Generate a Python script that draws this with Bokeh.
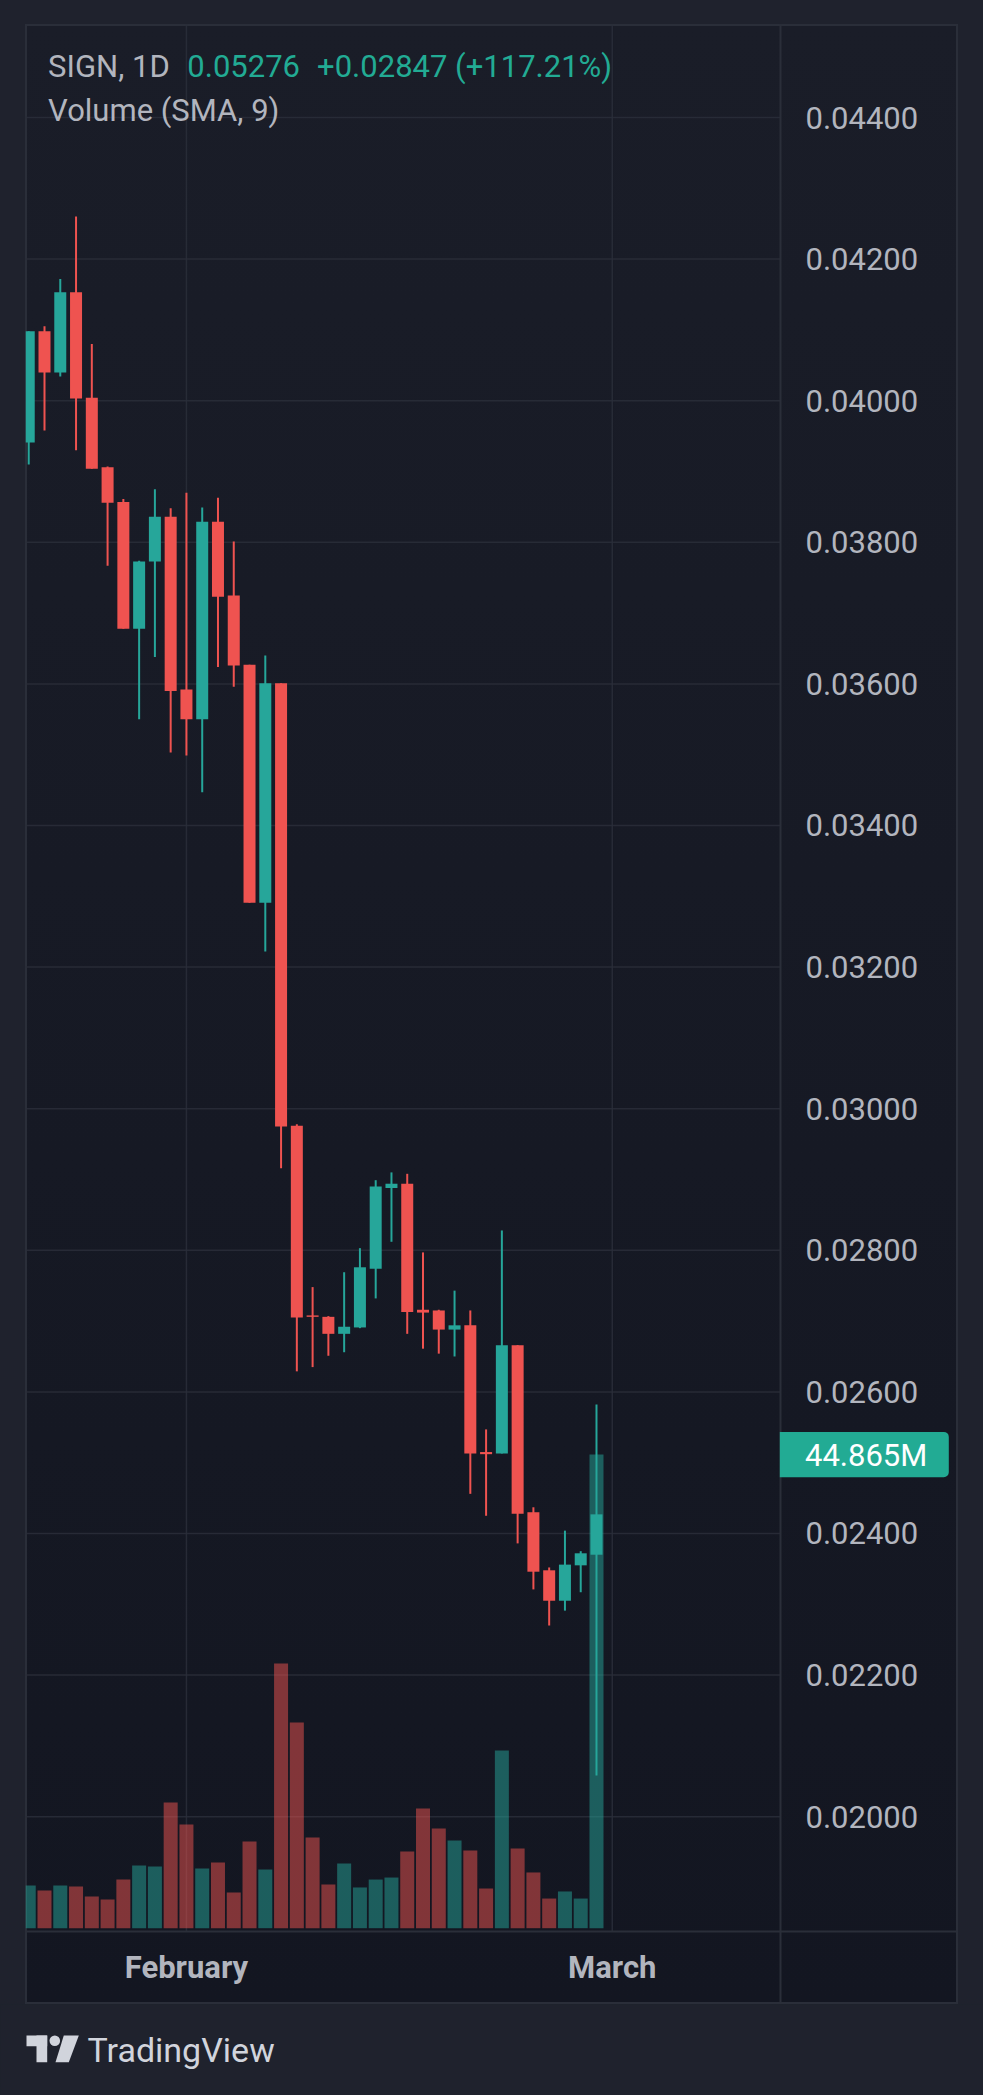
from bokeh.plotting import figure
from bokeh.models import (Range1d, FixedTicker, PrintfTickFormatter, Label,
                          BoxAnnotation, Spacer, ColumnDataSource)
from bokeh.layouts import column, row
from bokeh.core.properties import value
from bokeh.embed import file_html
from bokeh.resources import INLINE

# ---------------- data ----------------
days = list(range(37))  # daily bars, index 10 = 1 February, 37 = 1 March
opens = [0.03941, 0.04098, 0.04040, 0.04153, 0.04004, 0.03906, 0.03857, 0.03678,
         0.03773, 0.03836, 0.03592, 0.03550, 0.03829, 0.03725, 0.03627, 0.03291,
         0.03601, 0.02976, 0.02708, 0.02706, 0.02682, 0.02691, 0.02774, 0.02888,
         0.02894, 0.02716, 0.02715, 0.02688, 0.02694, 0.02515, 0.02513, 0.02666,
         0.02430, 0.02348, 0.02305, 0.02355, 0.02370]
highs = [0.04098, 0.04105, 0.04172, 0.04260, 0.04080, 0.03907, 0.03861, 0.03774,
         0.03875, 0.03848, 0.03870, 0.03849, 0.03863, 0.03801, 0.03627, 0.03640,
         0.03601, 0.02978, 0.02748, 0.02707, 0.02769, 0.02803, 0.02899, 0.02910,
         0.02908, 0.02797, 0.02716, 0.02743, 0.02715, 0.02547, 0.02828, 0.02666,
         0.02437, 0.02352, 0.02404, 0.02375, 0.02582]
lows = [0.03910, 0.03958, 0.04034, 0.03930, 0.03904, 0.03767, 0.03678, 0.03550,
        0.03638, 0.03503, 0.03499, 0.03447, 0.03624, 0.03596, 0.03291, 0.03222,
        0.02916, 0.02629, 0.02635, 0.02651, 0.02656, 0.02690, 0.02732, 0.02812,
        0.02682, 0.02661, 0.02654, 0.02650, 0.02456, 0.02425, 0.02513, 0.02386,
        0.02321, 0.02270, 0.02291, 0.02317, 0.02058]
closes = [0.04098, 0.04040, 0.04153, 0.04003, 0.03904, 0.03856, 0.03678, 0.03773,
          0.03836, 0.03590, 0.03550, 0.03829, 0.03723, 0.03626, 0.03291, 0.03601,
          0.02975, 0.02705, 0.02706, 0.02682, 0.02692, 0.02776, 0.02890, 0.02894,
          0.02713, 0.02712, 0.02688, 0.02694, 0.02513, 0.02512, 0.02666, 0.02428,
          0.02346, 0.02305, 0.02356, 0.02372, 0.02427]
volumes = [4.05e6, 3.57e6, 4.05e6, 3.95e6, 3.00e6, 2.72e6, 4.61e6, 5.94e6,
           5.85e6, 11.91e6, 9.82e6, 5.66e6, 6.22e6, 3.38e6, 8.21e6, 5.56e6,
           25.07e6, 19.49e6, 8.59e6, 4.14e6, 6.13e6, 3.86e6, 4.61e6, 4.80e6,
           7.27e6, 11.34e6, 9.44e6, 8.31e6, 7.36e6, 3.76e6, 16.83e6, 7.55e6,
           5.28e6, 2.81e6, 3.48e6, 2.81e6, 44.865e6]
price_ticks = [0.020, 0.022, 0.024, 0.026, 0.028, 0.030, 0.032, 0.034,
               0.036, 0.038, 0.040, 0.042, 0.044]
month_ticks = [10, 37]
month_labels = ["February", "March"]
header_symbol = "SIGN, 1D"
header_last = "0.05276"
header_change = "+0.02847 (+117.21%)"
volume_title = "Volume (SMA, 9)"
brand = "TradingView"

# ---------------- style / layout ----------------
UP, DOWN = "#26a69a", "#ef5350"
TEXT_UP = "#22ab94"
OUTER = "#1f222d"
LINE = "#2a2e39"
AXIS_TEXT = "#b2b5be"
FONT = "Roboto"

PAGE_W, PAGE_H = 983, 2095
PANE_X, PANE_Y = 25, 24          # pane position on the page
PANE_W, PANE_H = 933, 1980       # pane = plot frame
SEP_PX, SEP_PY = 755, 1907       # price-scale / time-scale separators (pane px)
X_START, X_END = -0.2048, 58.954
Y_TOP, Y_BOTTOM = 0.0453136, 0.017347
VOL_TOP, VOL_BOTTOM = 180.34e6, -7.228e6


def cx(px):
    return X_START + px / PANE_W * (X_END - X_START)


def cy(py):
    return Y_TOP - py / PANE_H * (Y_TOP - Y_BOTTOM)


def vpx(v):
    return (VOL_TOP - v) / (VOL_TOP - VOL_BOTTOM) * PANE_H


SEP_X, SEP_Y = cx(SEP_PX), cy(SEP_PY)

colors = [UP if c >= o else DOWN for o, c in zip(opens, closes)]
src = ColumnDataSource(dict(
    x=days, open=opens, high=highs, low=lows, close=closes,
    top=[max(o, c) for o, c in zip(opens, closes)],
    bottom=[min(o, c) for o, c in zip(opens, closes)],
    vol=volumes, color=colors,
))

p = figure(width=PANE_W, height=PANE_H,
           x_range=Range1d(X_START, X_END), y_range=Range1d(Y_BOTTOM, Y_TOP),
           output_backend="svg", toolbar_location=None,
           x_axis_location="below", y_axis_location="right", min_border=0)
p.extra_y_ranges = {"vol": Range1d(VOL_BOTTOM, VOL_TOP)}
p.background_fill_alpha = 0
p.border_fill_alpha = 0
p.outline_line_color = None
p.styles = {"background": "linear-gradient(to bottom, #1a1d28 0%, #131621 100%)",
            "box-shadow": "inset 0 0 0 2px " + LINE}
p.xgrid.visible = False
p.ygrid.visible = False

# grid lines, limited to the chart area (left of / above the scales)
p.segment(x0=[X_START] * len(price_ticks), y0=price_ticks,
          x1=[SEP_X] * len(price_ticks), y1=price_ticks,
          line_color=LINE, line_alpha=0.85, line_width=1.5)
p.segment(x0=month_ticks, y0=[SEP_Y] * len(month_ticks),
          x1=month_ticks, y1=[Y_TOP] * len(month_ticks),
          line_color=LINE, line_alpha=0.85, line_width=1.5)

# price scale, drawn on the separator
ya = p.yaxis[0]
ya.fixed_location = SEP_X
ya.ticker = FixedTicker(ticks=price_ticks)
ya.formatter = PrintfTickFormatter(format="%.5f")
ya.major_label_text_font = FONT
ya.major_label_text_font_size = "31px"
ya.major_label_text_color = AXIS_TEXT
ya.major_tick_out = 0
ya.major_tick_in = 0
ya.minor_tick_out = 0
ya.minor_tick_in = 0
ya.major_label_standoff = 25
ya.axis_line_color = LINE
ya.axis_line_width = 2

# time scale, drawn on the separator
xa = p.xaxis[0]
xa.fixed_location = SEP_Y
xa.ticker = FixedTicker(ticks=month_ticks)
xa.major_label_overrides = {t: l for t, l in zip(month_ticks, month_labels)}
xa.major_label_text_font = FONT
xa.major_label_text_font_size = "31px"
xa.major_label_text_font_style = "bold"
xa.major_label_text_color = AXIS_TEXT
xa.major_tick_out = 0
xa.major_tick_in = 0
xa.minor_tick_out = 0
xa.minor_tick_in = 0
xa.major_label_standoff = 17
xa.axis_line_color = LINE
xa.axis_line_width = 2

# volume
p.vbar(x="x", top="vol", bottom=0, width=0.888, fill_color="color",
       fill_alpha=0.5, line_color=None, source=src, y_range_name="vol")
# candles
p.segment(x0="x", y0="low", x1="x", y1="high", line_color="color",
          line_width=2, source=src)
p.vbar(x="x", top="top", bottom="bottom", width=0.761, fill_color="color",
       line_color=None, source=src)

# header
for txt, px, color in [(header_symbol, 22.6, AXIS_TEXT),
                       (header_last, 161.8, TEXT_UP),
                       (header_change, 291.6, TEXT_UP)]:
    p.add_layout(Label(x=cx(px), y=cy(41.5), text=txt, text_font=FONT,
                       text_font_size="31px", text_color=color,
                       text_baseline="alphabetic"))
p.add_layout(Label(x=cx(22.6), y=cy(86.0), text=volume_title, text_font=FONT,
                   text_font_size="31px", text_color=AXIS_TEXT,
                   text_baseline="alphabetic"))

# last volume label on the price scale
last_py = vpx(volumes[-1])
p.add_layout(BoxAnnotation(left=cx(754.3), right=cx(923.3),
                           top=cy(last_py - 22.7), bottom=cy(last_py + 22.6),
                           fill_color=TEXT_UP, fill_alpha=1, line_color=None,
                           border_radius=dict(top_left=0, top_right=5,
                                              bottom_right=5, bottom_left=0)))
p.add_layout(Label(x=cx(779.5), y=cy(last_py + 0.5), text=f"{volumes[-1] / 1e6:.3f}M",
                   text_font=FONT, text_font_size="31px",
                   text_color="#ffffff", text_baseline="alphabetic"))

# footer with brand
FOOT_H = PAGE_H - PANE_Y - PANE_H
f = figure(width=PAGE_W, height=FOOT_H, x_range=Range1d(0, PAGE_W),
           y_range=Range1d(FOOT_H, 0),
           output_backend="svg", toolbar_location=None,
           x_axis_location=None, y_axis_location=None, min_border=0)
f.grid.visible = False
f.outline_line_color = None
f.background_fill_color = OUTER
f.border_fill_color = OUTER
LOGO = "#d1d4dc"
f.quad(left=[26, 36], right=[46.7, 46.7], top=[31, 31], bottom=[41.7, 57.7],
       fill_color=LOGO, line_color=None)
f.circle(x=[54.3], y=[36.2], radius=5.3, fill_color=LOGO, line_color=None)
f.patch(x=[63.3, 78.3, 68.3, 55.0], y=[31, 31, 57.7, 57.7],
        fill_color=LOGO, line_color=None)
f.text(x=[87], y=[45.5], text=[brand], text_font=value(FONT), text_font_size="34px",
       text_color=LOGO, text_baseline="alphabetic")

layout = column(Spacer(width=PAGE_W, height=PANE_Y),
                row(Spacer(width=PANE_X, height=PANE_H), p),
                f)

html = file_html(layout, INLINE, title="SIGN 1D")
css = ("<style>html, body { background: %s !important; margin: 0 !important; "
       "padding: 0 !important; }</style>" % OUTER)
if "</head>" in html:
    html = html.replace("</head>", css + "</head>", 1)
else:
    html = css + html
open("out.html", "w").write(html)
